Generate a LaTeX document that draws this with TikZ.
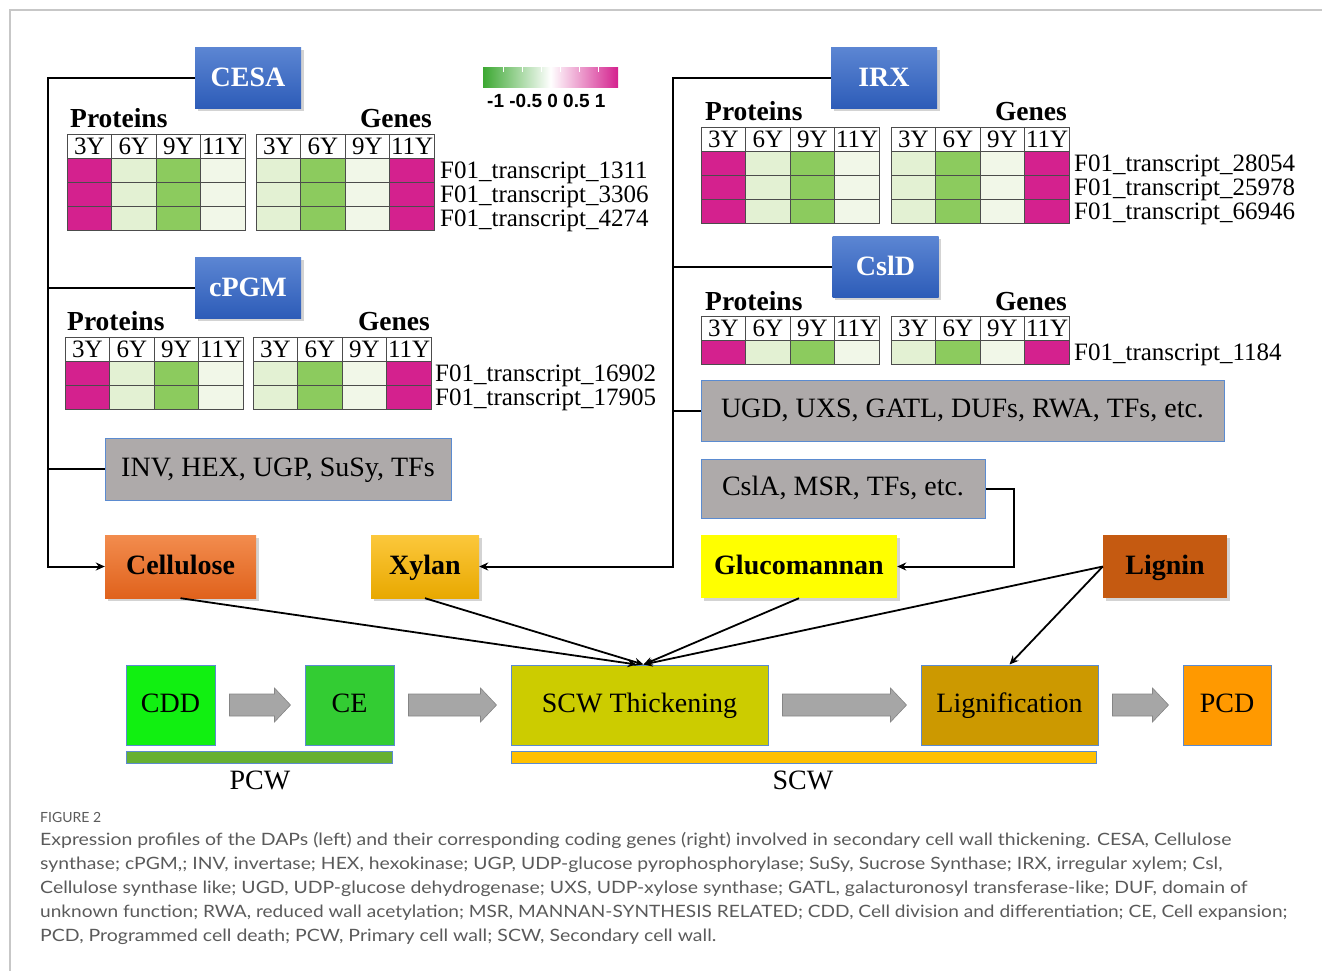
\documentclass[tikz,border=0pt]{standalone}
\usepackage{fontspec}
\setmainfont{Liberation Serif}
\newfontfamily\capfont{Lato}
\newfontfamily\arialfont{Liberation Sans}
\usepackage{graphicx}
\usetikzlibrary{shadows,calc,arrows.meta}
\definecolor{mg}{HTML}{D4218E}
\definecolor{lg}{HTML}{E3F1D3}
\definecolor{dg}{HTML}{8CCB5E}
\definecolor{vg}{HTML}{F1F7E8}
\definecolor{cbg}{HTML}{3CA832}
\definecolor{bT}{HTML}{5C86D3}
\definecolor{bB}{HTML}{2D5CB8}
\definecolor{grayfill}{HTML}{AEAAAA}
\definecolor{boxedge}{HTML}{5B8BD0}
\definecolor{arrowgray}{HTML}{A6A6A6}
\definecolor{capgray}{HTML}{5A5A5A}
\definecolor{celT}{HTML}{F28C4E}
\definecolor{celB}{HTML}{E0621C}
\definecolor{xylT}{HTML}{FCC83C}
\definecolor{xylB}{HTML}{E8A800}
\definecolor{gluc}{HTML}{FFFF00}
\definecolor{lign}{HTML}{C55A11}
\definecolor{cddc}{HTML}{11F011}
\definecolor{cec}{HTML}{33CC33}
\definecolor{scwc}{HTML}{CCCC00}
\definecolor{ligc}{HTML}{CC9900}
\definecolor{pcdc}{HTML}{FF9900}
\definecolor{pcwbar}{HTML}{66B032}
\definecolor{scwbar}{HTML}{FFC000}
\def\cw{44.6}
\def\rh{24}
\newcommand{\hmtab}[5]{%
  \foreach \cc [count=\ii from 0] in {#5}{%
    \foreach \rr in {1,...,#4}{%
      \fill[fill=\cc] ({#2+\ii*\cw},{#3+\rr*\rh}) rectangle ++(\cw,\rh);
    }
  }
  \foreach \lab [count=\ii from 0] in {3Y,6Y,9Y,11Y}{%
    \node[hdr] (#1h\ii) at ({#2+(\ii+0.5)*\cw},{#3+20.5}) {\lab};
  }
  \foreach \ii in {1,2,3}{\draw[gridl] ({#2+\ii*\cw},#3) -- ++(0,{(#4+1)*\rh});}
  \foreach \rr in {1,...,#4}{\draw[gridl] (#2,{#3+\rr*\rh}) -- ++({4*\cw},0);}
  \draw[gridl] (#2,#3) rectangle ++({4*\cw},{(#4+1)*\rh});
}
\newcommand{\barrow}[2]{%
  \path let \p1=($(#1.east)+(14,0)$), \p2=($(#2.west)+(-14,0)$) in
    [fill=arrowgray, draw=arrowgray!80!black, line width=0.6pt]
    (\x1,\y1-11pt) -- (\x2-16pt,\y1-11pt) -- (\x2-16pt,\y1-17pt) -- (\x2,\y1)
    -- (\x2-16pt,\y1+17pt) -- (\x2-16pt,\y1+11pt) -- (\x1,\y1+11pt) -- cycle;
}
\begin{document}
\begin{tikzpicture}[x=1pt,y=-1pt,
  big/.style={font=\fontsize{28}{30}\selectfont},
  bigb/.style={font=\fontsize{28}{30}\selectfont\bfseries},
  hdr/.style={font=\fontsize{25}{25}\selectfont, inner sep=0pt, anchor=base},
  gridl/.style={draw=black!70, line width=0.9pt},
  rowlab/.style={font=\fontsize{25}{25}\selectfont, inner sep=0pt, anchor=base west},
  plab/.style={font=\fontsize{27.5}{27.5}\selectfont\bfseries, inner sep=0pt, anchor=base west},
  glab/.style={font=\fontsize{27.5}{27.5}\selectfont\bfseries, inner sep=0pt, anchor=base east},
  shad/.style={drop shadow={shadow xshift=2.5pt, shadow yshift=-2.5pt, opacity=0.35}},
  bluebox/.style={bigb, text=white, top color=bT, bottom color=bB, draw=none,
    minimum width=106, minimum height=61, inner sep=0pt, text height=19pt, text depth=2pt, shad},
  graybox/.style={big, fill=grayfill, draw=boxedge, line width=1pt, inner sep=0pt, text height=19pt, text depth=5pt},
  polybox/.style={bigb, draw=none, inner sep=0pt, minimum height=63, text height=19pt, text depth=4pt, shad},
  stagebox/.style={big, draw=boxedge, line width=1pt, inner sep=0pt, minimum height=80, text height=19pt, text depth=4pt},
  conn/.style={draw=black, line width=2pt},
  arr/.style={conn, -{Stealth[length=9pt,width=8pt]}},
  darr/.style={draw=black, line width=1.8pt, -{Stealth[length=9pt,width=8pt]}},
  capline/.style={font=\capfont\fontsize{17}{17}\selectfont, text=capgray, inner sep=0pt, anchor=base west}
]
\useasboundingbox (0,0) rectangle (1322,970);
\draw[black!22, line width=1.3pt] (10,972) -- (10,10) -- (1324,10);

% ---------- colour bar ----------
\shade[left color=cbg, right color=mg, middle color=white] (483,67) rectangle (618,87);
\foreach \t in {503,522,541,560,579,598}{\draw[white, line width=0.8pt] (\t,67) -- (\t,72);}
\node[font=\arialfont\bfseries\fontsize{19}{19}\selectfont, inner sep=0pt, anchor=base west] (cblab) at (487,107) {-1 -0.5 0 0.5 1};

% ---------- blue labels ----------
\node[bluebox] (cesa) at (248,77.5) {CESA};
\node[bluebox] (cpgm) at (248,287.5) {cPGM};
\node[bluebox] (irx) at (884,77.5) {IRX};
\node[bluebox] (csld) at (885.5,266.5) {CslD};

% ---------- CESA heatmaps ----------
\node[plab] (cesaP) at (70,127) {Proteins};
\node[glab] (cesaG) at (432,127) {Genes};
\hmtab{cesap}{67}{134}{3}{mg,lg,dg,vg}
\hmtab{cesag}{256}{134}{3}{lg,dg,vg,mg}
\node[rowlab] (cesa1) at (440,178) {F01\_transcript\_1311};
\node[rowlab] (cesa2) at (440,202) {F01\_transcript\_3306};
\node[rowlab] (cesa3) at (440,226) {F01\_transcript\_4274};

% ---------- cPGM heatmaps ----------
\node[plab] (cpgmP) at (67,330) {Proteins};
\node[glab] (cpgmG) at (430,330) {Genes};
\hmtab{cpgmp}{65}{337}{2}{mg,lg,dg,vg}
\hmtab{cpgmg}{253}{337}{2}{lg,dg,vg,mg}
\node[rowlab] (cpgm1) at (435,381) {F01\_transcript\_16902};
\node[rowlab] (cpgm2) at (435,405) {F01\_transcript\_17905};

% ---------- IRX heatmaps ----------
\node[plab] (irxP) at (705,120) {Proteins};
\node[glab] (irxG) at (1067,120) {Genes};
\hmtab{irxp}{701}{127}{3}{mg,lg,dg,vg}
\hmtab{irxg}{891}{127}{3}{lg,dg,vg,mg}
\node[rowlab] (irx1) at (1074,171) {F01\_transcript\_28054};
\node[rowlab] (irx2) at (1074,195) {F01\_transcript\_25978};
\node[rowlab] (irx3) at (1074,219) {F01\_transcript\_66946};

% ---------- CslD heatmaps ----------
\node[plab] (csldP) at (705,310) {Proteins};
\node[glab] (csldG) at (1067,310) {Genes};
\hmtab{csldp}{701}{316}{1}{mg,lg,dg,vg}
\hmtab{csldg}{891}{316}{1}{lg,dg,vg,mg}
\node[rowlab] (csld1) at (1074,360) {F01\_transcript\_1184};

% ---------- gray boxes ----------
\node[graybox, minimum width=346, minimum height=62] (inv) at (278,469) {INV, HEX, UGP, SuSy, TFs};
\node[graybox, minimum width=523, minimum height=61] (ugd) at (962.5,410.5) {UGD, UXS, GATL, DUFs, RWA, TFs, etc.};
\node[graybox, minimum width=284, minimum height=59] (csla) at (843,488.5) {CslA, MSR, TFs, etc.};

% ---------- polymers ----------
\node[polybox, top color=celT, bottom color=celB, minimum width=151] (cell) at (180.5,566.5) {Cellulose};
\node[polybox, top color=xylT, bottom color=xylB, minimum width=108] (xyl) at (425,566.5) {Xylan};
\node[polybox, fill=gluc, minimum width=196] (glu) at (799,566.5) {Glucomannan};
\node[polybox, fill=lign, minimum width=124] (lgn) at (1165,566.5) {Lignin};

% ---------- stages ----------
\node[stagebox, fill=cddc, minimum width=89] (cdd) at (170.5,705) {CDD};
\node[stagebox, fill=cec, minimum width=89] (ce) at (349.5,705) {CE};
\node[stagebox, fill=scwc, minimum width=257] (scw) at (639.5,705) {SCW Thickening};
\node[stagebox, fill=ligc, minimum width=177] (lig) at (1009.5,705) {Lignification};
\node[stagebox, fill=pcdc, minimum width=88] (pcd) at (1227,705) {PCD};
\node[draw=boxedge, line width=1pt, fill=pcwbar, minimum width=266, minimum height=12, inner sep=0pt] (pcwb) at (259,757) {};
\node[draw=boxedge, line width=1pt, fill=scwbar, minimum width=585, minimum height=12, inner sep=0pt] (scwb) at (803.5,757) {};
\node[big, inner sep=0pt, anchor=base] (pcwl) at (260,789) {PCW};
\node[big, inner sep=0pt, anchor=base] (scwl) at (803,789) {SCW};

\barrow{cdd}{ce}
\barrow{ce}{scw}
\barrow{scw}{lig}
\barrow{lig}{pcd}

% ---------- connectors ----------
\coordinate (lt) at (48,0);
\coordinate (rt) at (673,0);
\coordinate (rr) at (1014,0);
\draw[arr] (cesa.west) -- (cesa.west -| lt) -- (cell.west -| lt) -- (cell.west);
\draw[conn] (cpgm.west) -- (cpgm.west -| lt);
\draw[conn] (inv.west) -- (inv.west -| lt);
\draw[arr] (irx.west) -- (irx.west -| rt) -- (xyl.east -| rt) -- (xyl.east);
\draw[conn] (csld.west) -- (csld.west -| rt);
\draw[conn] (ugd.west) -- (ugd.west -| rt);
\draw[arr] (csla.east) -- (csla.east -| rr) -- (glu.east -| rr) -- (glu.east);

\coordinate (t1) at ($(scw.north)+(-3,0)$);
\coordinate (t2) at ($(scw.north)+(4,0)$);
\draw[darr] (cell.south) -- (t1);
\draw[darr] (xyl.south) -- (t2);
\draw[darr] (glu.south) -- (t2);
\draw[darr] (lgn.west) -- (t2);
\draw[darr] (lgn.west) -- (lig.north);

% ---------- caption ----------
\node[font=\capfont\fontsize{14}{14}\selectfont, text=capgray, inner sep=0pt, anchor=base west] (fig) at (40,822) {FIGURE 2};
\node[capline] (cap1) at (40,845) {\resizebox{1191pt}{\height}{Expression profiles of the DAPs (left) and their corresponding coding genes (right) involved in secondary cell wall thickening. CESA, Cellulose}};
\node[capline] (cap2) at (40,869) {\resizebox{1182pt}{\height}{synthase; cPGM,; INV, invertase; HEX, hexokinase; UGP, UDP-glucose pyrophosphorylase; SuSy, Sucrose Synthase; IRX, irregular xylem; Csl,}};
\node[capline] (cap3) at (40,893) {\resizebox{1207pt}{\height}{Cellulose synthase like; UGD, UDP-glucose dehydrogenase; UXS, UDP-xylose synthase; GATL, galacturonosyl transferase-like; DUF, domain of}};
\node[capline] (cap4) at (40,917) {\resizebox{1247pt}{\height}{unknown function; RWA, reduced wall acetylation; MSR, MANNAN-SYNTHESIS RELATED; CDD, Cell division and differentiation; CE, Cell expansion;}};
\node[capline] (cap5) at (40,941) {\resizebox{676pt}{\height}{PCD, Programmed cell death; PCW, Primary cell wall; SCW, Secondary cell wall.}};
\end{tikzpicture}
\end{document}
